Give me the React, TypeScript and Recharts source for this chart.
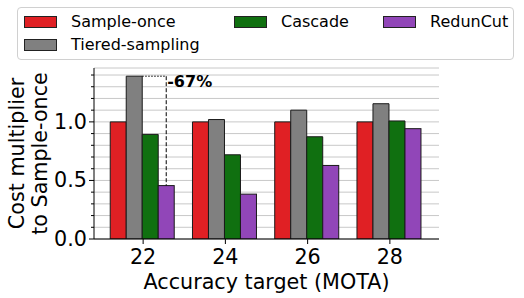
import React from 'react';
import { BarChart, Bar, XAxis, YAxis, CartesianGrid } from 'recharts';

const categories = ['22', '24', '26', '28'];
const sampleOnce = [1.0, 1.0, 1.0, 1.0];
const tieredSampling = [1.39, 1.02, 1.1, 1.155];
const cascade = [0.893, 0.719, 0.873, 1.008];
const redunCut = [0.456, 0.383, 0.628, 0.942];

const yTicks = [0, 0.1, 0.2, 0.3, 0.4, 0.5, 0.6, 0.7, 0.8, 0.9, 1.0, 1.1, 1.2, 1.3, 1.4];
const yMajorLabels: Record<string, string> = { '0': '0.0', '0.5': '0.5', '1': '1.0' };
const yMax = 1.46;

const series = [
  { key: 'sample', name: 'Sample-once', color: '#e02024', values: sampleOnce },
  { key: 'tiered', name: 'Tiered-sampling', color: '#808080', values: tieredSampling },
  { key: 'cascade', name: 'Cascade', color: '#107010', values: cascade },
  { key: 'redun', name: 'RedunCut', color: '#9146b8', values: redunCut },
];

// legend placement (matplotlib ncol=3, column-major)
const legendCols = [
  [0, 1],
  [2],
  [3],
];
const legendColLeft = [6, 216, 365];
const legendRowTop = [8, 31];

const data = categories.map((c, i) => {
  const row: Record<string, any> = { cat: c };
  series.forEach((s) => {
    row[s.key] = s.values[i];
  });
  return row;
});

const FONT = 'DejaVu Sans';
const AXFS = 20.7;

const YTick = (props: any) => {
  const { x, y, payload } = props;
  const v = Math.round(payload.value * 10) / 10;
  const label = yMajorLabels[String(v)];
  const major = label !== undefined;
  return (
    <g>
      <line x1={x - (major ? 5 : 3)} x2={x} y1={y} y2={y} stroke="#000" strokeWidth={1} />
      {major && (
        <text x={x - 7} y={y} textAnchor="end" dominantBaseline="central" fontSize={AXFS} fontFamily={FONT} fill="#000">
          {label}
        </text>
      )}
    </g>
  );
};

const XTick = (props: any) => {
  const { x, y, payload } = props;
  return (
    <g>
      <text x={x} y={y + 11} textAnchor="middle" dominantBaseline="central" fontSize={AXFS} fontFamily={FONT} fill="#000">
        {payload.value}
      </text>
    </g>
  );
};

const YLabel = (props: any) => {
  const vb = props.viewBox || { x: 0, y: 0, width: 94, height: 171 };
  const cx = vb.x + 28.5;
  const cy = vb.y + vb.height / 2;
  return (
    <text
      transform={`rotate(-90, ${cx}, ${cy})`}
      textAnchor="middle"
      fontSize={AXFS}
      fontFamily={FONT}
      fill="#000"
      dominantBaseline="central"
    >
      <tspan x={cx} y={cy - 11.5}>Cost multiplier</tspan>
      <tspan x={cx} y={cy + 11.5}>to Sample-once</tspan>
    </text>
  );
};

const RedunShape = (props: any) => {
  const { x, y, width, height, payload, fill } = props;
  const isFirst = payload && payload.cat === categories[0];
  let anno = null;
  if (isFirst && height > 0) {
    const pxPerUnit = height / payload.redun;
    const base = y + height;
    const yT = base - payload.tiered * pxPerUnit;
    const cx = x + width / 2;
    const pct = Math.round((1 - payload.redun / payload.tiered) * 100);
    anno = (
      <g>
        <line x1={x - width} x2={cx} y1={yT} y2={yT} stroke="#000" strokeWidth={1} strokeDasharray="1.5 1.5" />
        <line x1={cx} x2={cx} y1={yT} y2={y} stroke="#000" strokeWidth={1} strokeDasharray="4 2" />
        <text x={cx + 1} y={yT + 11} fontSize={16} fontWeight="bold" fontFamily={FONT} fill="#000">
          {`-${pct}%`}
        </text>
      </g>
    );
  }
  return (
    <g>
      <rect x={x} y={y} width={width} height={height} fill={fill} stroke="#1a1a1a" strokeWidth={1} />
      {anno}
    </g>
  );
};

export default function App() {
  return (
    <div style={{ position: 'absolute', left: 0, top: 0, width: 524, height: 298, fontFamily: FONT }}>
      <div
        style={{
          position: 'absolute',
          left: 17,
          top: 7,
          width: 495,
          height: 51,
          border: '1px solid #d0d0d0',
          borderRadius: 4,
          background: '#fff',
          zIndex: 2,
        }}
      >
        {legendCols.map((col, ci) =>
          col.map((si, ri) => {
            const s = series[si];
            return (
              <div
                key={s.key}
                style={{
                  position: 'absolute',
                  left: legendColLeft[ci],
                  top: legendRowTop[ri],
                  height: 11,
                  display: 'flex',
                  alignItems: 'center',
                  whiteSpace: 'nowrap',
                }}
              >
                <div
                  style={{
                    width: 31,
                    height: 10,
                    background: s.color,
                    border: '1px solid #222',
                    marginRight: 14,
                  }}
                />
                <span style={{ fontSize: 16, lineHeight: '11px', color: '#000' }}>{s.name}</span>
              </div>
            );
          })
        )}
      </div>
      <BarChart
        width={524}
        height={298}
        data={data}
        margin={{ top: 68, right: 85, bottom: 0, left: 0 }}
        barCategoryGap="10%"
        barGap={0}
      >
        <CartesianGrid vertical={false} stroke="#c8c8c8" strokeWidth={1} />
        <XAxis
          dataKey="cat"
          height={59}
          padding={{ left: 8, right: 8 }}
          axisLine={{ stroke: '#000', strokeWidth: 1 }}
          tickLine={{ stroke: '#000', strokeWidth: 1 }}
          tickSize={5}
          tick={<XTick />}
          interval={0}
          label={{
            value: 'Accuracy target (MOTA)',
            position: 'insideBottom',
            offset: 9,
            fontSize: AXFS,
            fontFamily: FONT,
            fill: '#000',
          }}
        />
        <XAxis
          xAxisId="top"
          dataKey="cat"
          orientation="top"
          height={0}
          padding={{ left: 8, right: 8 }}
          axisLine={{ stroke: '#000', strokeWidth: 1 }}
          tick={false}
          tickLine={false}
        />
        <YAxis
          width={94}
          domain={[0, yMax]}
          ticks={yTicks}
          interval={0}
          tickSize={0}
          tickMargin={0}
          tickLine={false}
          axisLine={{ stroke: '#000', strokeWidth: 1 }}
          tick={<YTick />}
          allowDataOverflow
          label={<YLabel />}
        />
        <YAxis
          yAxisId="r"
          orientation="right"
          width={0}
          domain={[0, yMax]}
          tick={false}
          tickLine={false}
          axisLine={{ stroke: '#000', strokeWidth: 1 }}
        />
        {series.map((s) => (
          <Bar
            key={s.key}
            dataKey={s.key}
            name={s.name}
            fill={s.color}
            stroke="#1a1a1a"
            strokeWidth={1}
            isAnimationActive={false}
            shape={s.key === 'redun' ? <RedunShape /> : undefined}
          />
        ))}
      </BarChart>
    </div>
  );
}
